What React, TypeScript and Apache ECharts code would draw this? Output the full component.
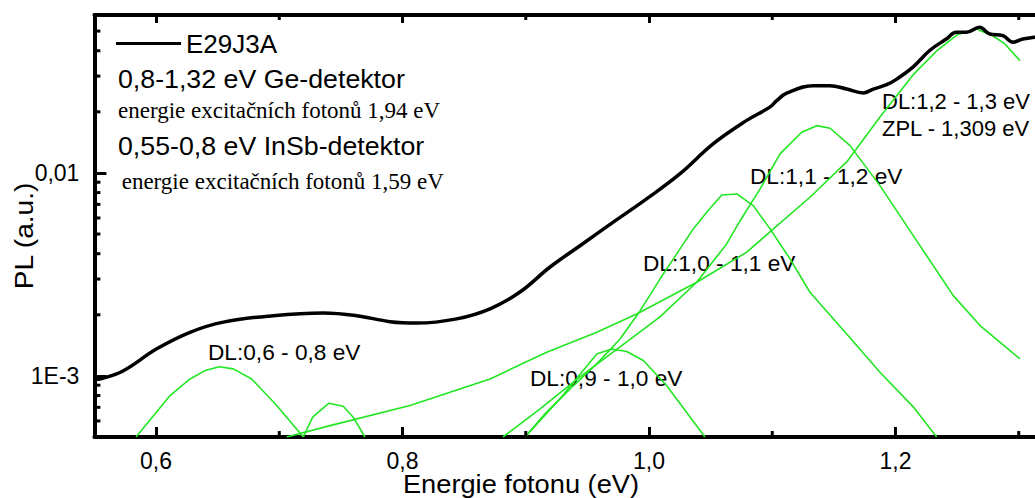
import React, { useEffect, useRef } from 'react';
import * as echarts from 'echarts';

const X_MIN = 0.55;
const X_MAX = 1.32;
const Y_MIN = 5e-4;
const Y_MAX = 0.06;

const xMinorTicks = [0.7, 0.9, 1.1, 1.3];
const yMinorTicks = [6e-4, 7e-4, 8e-4, 9e-4, 2e-3, 3e-3, 4e-3, 5e-3, 6e-3, 7e-3, 8e-3, 9e-3, 2e-2, 3e-2, 4e-2, 5e-2];
const yTickLabels: [number, string][] = [[0.01, '0,01'], [0.001, '1E-3']];

const e29j3a: [number, number][] = [
  [0.550, 9.6e-4], [0.556, 9.7e-4], [0.5735, 1.06e-3], [0.6006, 1.36e-3], [0.6276, 1.64e-3],
  [0.6546, 1.84e-3], [0.6952, 1.98e-3], [0.7357, 2.04e-3], [0.7628, 1.98e-3], [0.7899, 1.85e-3],
  [0.8115, 1.82e-3], [0.844, 1.91e-3], [0.871, 2.14e-3], [0.8953, 2.59e-3], [0.9197, 3.44e-3],
  [0.944, 4.38e-3], [0.971, 5.72e-3], [0.998, 7.45e-3], [1.025, 9.89e-3], [1.052, 1.39e-2],
  [1.079, 1.81e-2], [1.098, 2.11e-2], [1.1036, 2.27e-2], [1.1117, 2.47e-2], [1.1333, 2.69e-2],
  [1.1468, 2.69e-2], [1.1604, 2.59e-2], [1.1739, 2.48e-2], [1.182, 2.59e-2], [1.1928, 2.72e-2],
  [1.201, 2.90e-2], [1.2141, 3.32e-2], [1.2277, 4.01e-2], [1.2412, 4.57e-2], [1.2493, 4.93e-2],
  [1.2574, 4.93e-2], [1.2682, 5.22e-2], [1.2763, 4.84e-2], [1.2871, 4.75e-2], [1.2952, 4.41e-2],
  [1.3033, 4.57e-2], [1.3128, 4.66e-2], [1.32, 4.75e-2],
];

const dl06_08: [number, number][] = [
  [0.5838, 5e-4], [0.6114, 8.0e-4], [0.6276, 9.66e-4], [0.6398, 1.062e-3], [0.6514, 1.11e-3],
  [0.6627, 1.083e-3], [0.6776, 9.66e-4], [0.6979, 7.15e-4], [0.7195, 5e-4],
];
const dl06_08b: [number, number][] = [
  [0.7195, 5e-4], [0.7271, 6.26e-4], [0.7403, 7.34e-4], [0.7519, 7.09e-4], [0.76, 6.26e-4], [0.7695, 5e-4],
];
const dl09_10: [number, number][] = [
  [0.8994, 5e-4], [0.9278, 7.71e-4], [0.9576, 1.283e-3], [0.9697, 1.358e-3], [0.9819, 1.318e-3],
  [0.9954, 1.19e-3], [1.0144, 8.95e-4], [1.0454, 5e-4],
];
const dl10_11: [number, number][] = [
  [0.8994, 5e-4], [0.9156, 6.5e-4], [0.9359, 8.63e-4], [0.9576, 1.146e-3], [0.9765, 1.521e-3],
  [0.9927, 2.09e-3], [1.0089, 3.0e-3], [1.0225, 3.99e-3], [1.0359, 5.3e-3], [1.0468, 6.4e-3],
  [1.059, 7.79e-3], [1.0712, 7.88e-3], [1.0846, 6.9e-3], [1.0982, 5.3e-3], [1.1144, 3.77e-3],
  [1.1306, 2.584e-3], [1.1604, 1.61e-3], [1.1874, 1.043e-3], [1.2144, 7.04e-4], [1.2334, 5e-4],
];
const dl11_12: [number, number][] = [
  [0.8815, 5e-4], [0.9116, 6.88e-4], [0.944, 9.89e-4], [0.9765, 1.39e-3], [1.0089, 1.953e-3],
  [1.0387, 2.893e-3], [1.063, 4.47e-3], [1.0738, 5.8e-3], [1.0901, 8.34e-3], [1.1063, 1.241e-2],
  [1.1239, 1.586e-2], [1.1361, 1.71e-2], [1.1469, 1.66e-2], [1.1631, 1.363e-2], [1.1874, 8.66e-3],
  [1.2144, 4.91e-3], [1.2469, 2.487e-3], [1.2686, 1.77e-3], [1.301, 1.213e-3],
];
const dl12_13: [number, number][] = [
  [0.706, 5e-4], [0.7412, 5.69e-4], [0.8061, 7.14e-4], [0.871, 9.66e-4], [0.917, 1.308e-3],
  [0.9576, 1.642e-3], [0.99, 2.02e-3], [1.0387, 2.893e-3], [1.0793, 4.07e-3], [1.1009, 5.3e-3],
  [1.1306, 7.59e-3], [1.1604, 1.133e-2], [1.1874, 1.888e-2], [1.2142, 3.04e-2], [1.2334, 3.99e-2],
  [1.2497, 4.78e-2], [1.2659, 5.12e-2], [1.2791, 4.73e-2], [1.2888, 4.32e-2], [1.301, 3.57e-2],
];

const SANS = '"Liberation Sans", Arial, sans-serif';
const SERIF = '"Liberation Serif", "Times New Roman", serif';
const GREEN = '#22e622';

function txt(text: string, x: number, y: number, size: number, family = SANS, sx = 1.07, align = 'left') {
  return {
    type: 'text', x, y, scaleX: sx, silent: true,
    style: { text, fill: '#000', fontSize: size, fontFamily: family, align, verticalAlign: 'middle' },
  };
}

export default function App() {
  const ref = useRef<HTMLDivElement>(null);
  useEffect(() => {
    if (!ref.current) return;
    const chart = echarts.init(ref.current, null, { renderer: 'svg' });
    const greenSeries = (name: string, data: [number, number][]) => ({
      name, type: 'line', data, showSymbol: false, symbol: 'none',
      lineStyle: { color: GREEN, width: 1.6 }, itemStyle: { color: GREEN }, z: 2,
    });
    const tickStyle = { stroke: '#000', lineWidth: 3 };
    chart.setOption({
      animation: false,
      backgroundColor: '#fff',
      grid: { left: 94.4, right: -8.4, top: 15, bottom: 61, containLabel: false, outerBoundsMode: 'none' },
      legend: {
        data: [{ name: 'E29J3A', icon: 'rect' }], left: 116, top: 30.5, itemWidth: 65, itemHeight: 3,
        padding: 0, selectedMode: false,
        textStyle: { fontSize: 26, fontFamily: SANS, color: '#000' },
      },
      xAxis: [
        {
          type: 'value', min: X_MIN, max: X_MAX, splitNumber: 4, position: 'bottom',
          axisLine: { show: true, onZero: false, lineStyle: { color: '#000', width: 4 } },
          axisTick: { show: true, inside: true, length: 10, lineStyle: { color: '#000', width: 3 } },
          axisLabel: {
            margin: 12, color: '#000', fontSize: 23, fontFamily: SANS,
            formatter: (v: number) => (Math.abs(v * 5 - Math.round(v * 5)) < 1e-6 ? v.toFixed(1).replace('.', ',') : ''),
          },
          splitLine: { show: false },
        },
        {
          type: 'value', min: X_MIN, max: X_MAX, splitNumber: 4, position: 'top',
          axisLine: { show: true, onZero: false, lineStyle: { color: '#000', width: 4 } },
          axisTick: { show: true, inside: true, length: 8, lineStyle: { color: '#000', width: 3 } },
          axisLabel: { show: false },
          splitLine: { show: false },
        },
      ],
      yAxis: {
        type: 'log', logBase: 10, min: Y_MIN, max: Y_MAX,
        axisLine: { show: true, lineStyle: { color: '#000', width: 4 } },
        axisTick: { show: true, inside: true, length: 12, lineStyle: { color: '#000', width: 3 } },
        axisLabel: {
          margin: 15, color: '#000', fontSize: 23, fontFamily: SANS,
          formatter: (v: number) => {
            for (const [tv, lab] of yTickLabels) if (Math.abs(Math.log10(v) - Math.log10(tv)) < 1e-6) return lab;
            return '';
          },
        },
        splitLine: { show: false },
      },
      series: [
        greenSeries('DL:0,6 - 0,8 eV', dl06_08),
        greenSeries('DL:0,6 - 0,8 eV b', dl06_08b),
        greenSeries('DL:0,9 - 1,0 eV', dl09_10),
        greenSeries('DL:1,0 - 1,1 eV', dl10_11),
        greenSeries('DL:1,1 - 1,2 eV', dl11_12),
        greenSeries('DL:1,2 - 1,3 eV', dl12_13),
        {
          name: 'E29J3A', type: 'line', data: e29j3a, showSymbol: false, symbol: 'none', smooth: 0.4,
          lineStyle: { color: '#000', width: 3.5 }, itemStyle: { color: '#000' }, z: 3,
        },
        {
          type: 'custom', silent: true, clip: false, z: 5,
          data: xMinorTicks.map((v) => [v, Y_MIN]),
          renderItem: (_p: any, api: any) => {
            const x = api.value(0);
            const b = api.coord([x, Y_MIN]);
            const t = api.coord([x, Y_MAX]);
            return {
              type: 'group', children: [
                { type: 'line', shape: { x1: b[0], y1: b[1], x2: b[0], y2: b[1] - 6 }, style: tickStyle },
                { type: 'line', shape: { x1: t[0], y1: t[1], x2: t[0], y2: t[1] + 5 }, style: tickStyle },
              ],
            };
          },
        },
        {
          type: 'custom', silent: true, clip: false, z: 5,
          data: yMinorTicks.map((v) => [X_MIN, v]),
          renderItem: (_p: any, api: any) => {
            const p = api.coord([X_MIN, api.value(1)]);
            return { type: 'line', shape: { x1: p[0], y1: p[1], x2: p[0] + 6, y2: p[1] }, style: tickStyle };
          },
        },
      ],
      graphic: [
        txt('0,8-1,32 eV Ge-detektor', 118, 79, 25),
        txt('energie excitačních fotonů 1,94 eV', 118, 110, 23, SERIF, 1),
        txt('0,55-0,8 eV InSb-detektor', 118, 146.7, 25),
        txt('energie excitačních fotonů 1,59 eV', 121.7, 181.7, 23, SERIF, 1),
        txt('DL:0,6 - 0,8 eV', 208, 353, 22, SANS, 1.03),
        txt('DL:0,9 - 1,0 eV', 530, 379, 22, SANS, 1.03),
        txt('DL:1,0 - 1,1 eV', 643, 264, 22, SANS, 1.03),
        txt('DL:1,1 - 1,2 eV', 750, 177, 22, SANS, 1.03),
        txt('DL:1,2 - 1,3 eV', 882, 101, 22, SANS, 1.0),
        txt('ZPL - 1,309 eV', 882, 128, 22, SANS, 1.0),
        txt('Energie fotonu (eV)', 521, 484, 25, SANS, 1.09, 'center'),
        { ...txt('PL (a.u.)', 24, 236, 26, SANS, 1.08, 'center'), rotation: Math.PI / 2 },
      ],
    });
    return () => chart.dispose();
  }, []);
  return <div ref={ref} style={{ position: 'fixed', left: 0, top: 0, width: 1035, height: 498, background: '#fff' }} />;
}
